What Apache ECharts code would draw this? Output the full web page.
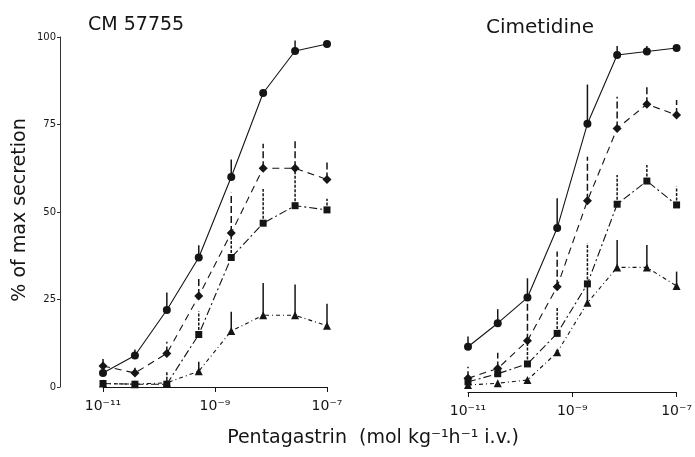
<!DOCTYPE html>
<html>
<head>
<meta charset="utf-8">
<script src="https://cdn.jsdelivr.net/npm/echarts@6/dist/echarts.min.js"></script>
<style>
  html, body { margin: 0; padding: 0; background: #fff; }
  #main { width: 695px; height: 457px; }
</style>
</head>
<body>
<div id="main"></div>
<script>
// dose positions, as log10(mol/kg/h)
var doseLog = [-11, -10.43, -9.86, -9.29, -8.71, -8.14, -7.57, -7];
var xTicks = { '-11': '10⁻¹¹', '-9': '10⁻⁹', '-7': '10⁻⁷' };

// CM 57755 panel (mean and top of error bar, % of max secretion)
var cmCircle = [4, 9, 22, 37, 60, 84, 96, 98];
var cmCircleErr = [null, 10.7, 27, 40.5, 65, null, 99, null];
var cmDiamond = [6, 4, 9.6, 26, 44, 62.5, 62.5, 59.3];
var cmDiamondErr = [8.8, 5.5, 12.9, 31, 55.5, 69.5, 70.5, 65];
var cmSquare = [1, 0.8, 0.8, 15, 37, 46.8, 51.8, 50.6];
var cmSquareErr = [null, null, 4.4, 21.6, 44, 56.6, 62.5, 53.8];
var cmTriangle = [1, 0.8, 1.2, 4.5, 16, 20.5, 20.5, 17.5];
var cmTriangleErr = [null, null, null, 7.2, 21.5, 29.7, 29.3, 23.8];

// Cimetidine panel
var ciCircle = [12.9, 19.6, 26.9, 46.7, 76.4, 96, 97, 98];
var ciCircleErr = [15.8, 23.6, 32.4, 55.2, 87.6, 98.6, 98.6, null];
var ciDiamond = [3.9, 6.7, 14.6, 30, 54.5, 75.1, 82, 78.9];
var ciDiamondErr = [7.2, 11.2, 26, 40, 67, 84.1, 87.2, 83.2];
var ciSquare = [2.9, 5.2, 8, 16.7, 30.8, 53.5, 60.1, 53.3];
var ciSquareErr = [null, null, 15, 24, 42.4, 61.8, 64.7, 58.5];
var ciTriangle = [2, 2.5, 3.4, 11.3, 25.4, 35.5, 35.5, 30.2];
var ciTriangleErr = [null, null, null, null, 30.8, 43.3, 41.9, 34.3];

var ink = '#151515';
var styles = {
  circle:   { symbol: 'circle',   size: 8, dash: 'solid',       errDash: null },
  diamond:  { symbol: 'diamond',  size: 9, dash: [7, 5],        errDash: [7, 3] },
  square:   { symbol: 'rect',     size: 7, dash: [8, 3, 2, 3],  errDash: [3, 1.5] },
  triangle: { symbol: 'triangle', size: 8, dash: [4, 3, 1, 3],  errDash: null }
};

function pairs(vals) {
  return doseLog.map(function (x, i) { return [x, vals[i]]; });
}

function errItems(vals, tops) {
  var out = [];
  doseLog.forEach(function (x, i) {
    if (tops[i] != null) out.push([x, vals[i], tops[i]]);
  });
  return out;
}

function errBars(g, vals, tops, dash) {
  return {
    type: 'custom',
    xAxisIndex: g,
    yAxisIndex: g,
    z: 1,
    silent: true,
    data: errItems(vals, tops),
    encode: { x: 0, y: [1, 2] },
    renderItem: function (params, api) {
      var p0 = api.coord([api.value(0), api.value(1)]);
      var p1 = api.coord([api.value(0), api.value(2)]);
      return {
        type: 'line',
        shape: { x1: p0[0], y1: p0[1], x2: p1[0], y2: p1[1] },
        style: { stroke: ink, lineWidth: 1.5, lineDash: dash }
      };
    }
  };
}

function curve(g, vals, kind) {
  var s = styles[kind];
  return {
    type: 'line',
    xAxisIndex: g,
    yAxisIndex: g,
    z: 3,
    silent: true,
    data: pairs(vals),
    symbol: s.symbol,
    symbolSize: s.size,
    itemStyle: { color: ink },
    lineStyle: { color: ink, width: 1.1, type: s.dash }
  };
}

function panel(g, sets) {
  var out = [];
  sets.forEach(function (d) {
    out.push(errBars(g, d[0], d[1], styles[d[2]].errDash));
    out.push(curve(g, d[0], d[2]));
  });
  return out;
}

var series = []
  .concat(panel(0, [
    [cmCircle, cmCircleErr, 'circle'],
    [cmDiamond, cmDiamondErr, 'diamond'],
    [cmSquare, cmSquareErr, 'square'],
    [cmTriangle, cmTriangleErr, 'triangle']
  ]))
  .concat(panel(1, [
    [ciCircle, ciCircleErr, 'circle'],
    [ciDiamond, ciDiamondErr, 'diamond'],
    [ciSquare, ciSquareErr, 'square'],
    [ciTriangle, ciTriangleErr, 'triangle']
  ]));

var font = 'DejaVu Sans';

function xAxisFor(g) {
  return {
    type: 'value',
    gridIndex: g,
    min: -11, max: -7, interval: 2,
    splitLine: { show: false },
    axisLine: { lineStyle: { color: ink, width: 1 } },
    axisTick: { length: 5, lineStyle: { color: ink } },
    axisLabel: {
      margin: 12,
      color: ink,
      fontFamily: font,
      fontSize: 14,
      formatter: function (v) { return xTicks[String(v)] || ''; }
    }
  };
}

var chart = echarts.init(document.getElementById('main'), null, { renderer: 'canvas' });

chart.setOption({
  backgroundColor: '#fff',
  animation: false,
  title: [
    { text: 'CM 57755', left: 83, top: 11, textStyle: { fontFamily: font, fontSize: 19, fontWeight: 'normal', color: ink } },
    { text: 'Cimetidine', left: 481, top: 13, textStyle: { fontFamily: font, fontSize: 20, fontWeight: 'normal', color: ink } }
  ],
  grid: [
    { left: 103, width: 224, top: 37, height: 350 },
    { left: 468, width: 224, top: 41, height: 351 }
  ],
  xAxis: [xAxisFor(0), xAxisFor(1)],
  yAxis: [
    {
      type: 'value',
      gridIndex: 0,
      min: 0, max: 100, interval: 25,
      offset: 43,
      splitLine: { show: false },
      axisLine: { show: true, lineStyle: { color: '#333', width: 1 } },
      axisTick: { length: 3, lineStyle: { color: '#333' } },
      axisLabel: { margin: 4, color: ink, fontFamily: font, fontSize: 10 }
    },
    {
      type: 'value',
      gridIndex: 1,
      min: 0, max: 100, interval: 25,
      show: false
    }
  ],
  graphic: [
    {
      type: 'text',
      x: 20, y: 210,
      rotation: Math.PI / 2,
      style: {
        text: '% of max secretion',
        fontFamily: font, fontSize: 19, fill: ink,
        align: 'center', verticalAlign: 'middle'
      }
    },
    {
      type: 'text',
      x: 373, y: 438,
      style: {
        text: 'Pentagastrin  (mol kg⁻¹h⁻¹ i.v.)',
        fontFamily: font, fontSize: 19, fill: ink,
        align: 'center', verticalAlign: 'middle'
      }
    }
  ],
  series: series
});
</script>
</body>
</html>
